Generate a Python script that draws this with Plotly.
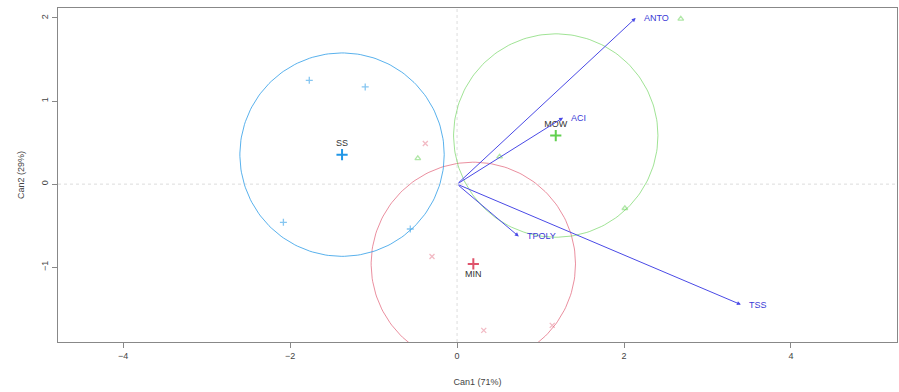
import numpy as np
import plotly.graph_objects as go

# ---- data ----
groups = ["MIN", "MOW", "SS"]
min_can1 = [-0.38, -0.30, 0.32, 1.14]
min_can2 = [0.49, -0.87, -1.76, -1.70]
mow_can1 = [-0.47, 0.51, 2.01, 2.68]
mow_can2 = [0.31, 0.33, -0.29, 1.99]
ss_can1 = [-1.77, -1.10, -2.08, -0.56]
ss_can2 = [1.25, 1.17, -0.46, -0.54]
circle_radius = 1.224

var_names = ["ANTO", "ACI", "TPOLY", "TSS"]
var_can1 = [2.14, 1.27, 0.74, 3.40]
var_can2 = [2.00, 0.80, -0.63, -1.45]

x_ticks = [-4, -2, 0, 2, 4]
y_ticks = [-1, 0, 1, 2]

colors = {"MIN": "#DF536B", "MOW": "#61D04F", "SS": "#2297E6"}
circ_col = {"MIN": "rgba(223,83,107,0.65)", "MOW": "rgba(97,208,79,0.6)", "SS": "rgba(34,151,230,0.75)"}
faded = {"MIN": "rgba(223,83,107,0.4)", "MOW": "rgba(97,208,79,0.5)", "SS": "rgba(34,151,230,0.55)"}
symbols = {"MIN": "x-thin", "MOW": "triangle-up-open", "SS": "cross-thin"}
pts = {"MIN": (min_can1, min_can2), "MOW": (mow_can1, mow_can2), "SS": (ss_can1, ss_can2)}
label_pos = {"MIN": "bottom center", "MOW": "top center", "SS": "top center"}
FONT = "Liberation Sans, Arial, sans-serif"

fig = go.Figure()

# reference lines
fig.add_shape(type="line", xref="x", yref="paper", x0=0, x1=0, y0=0, y1=1,
              line=dict(color="#dddddd", width=1, dash="dot"), layer="below")
fig.add_shape(type="line", xref="paper", yref="y", x0=0, x1=1, y0=0, y1=0,
              line=dict(color="#dddddd", width=1, dash="dot"), layer="below")

t = np.linspace(0, 2 * np.pi, 200)
for g in groups:
    xs, ys = pts[g]
    mx, my = float(np.mean(xs)), float(np.mean(ys))
    fig.add_trace(go.Scatter(x=mx + circle_radius * np.cos(t), y=my + circle_radius * np.sin(t),
                             mode="lines", line=dict(color=circ_col[g], width=1),
                             hoverinfo="skip", showlegend=False))
    fig.add_trace(go.Scatter(x=xs, y=ys, mode="markers",
                             marker=dict(symbol=symbols[g], size=5,
                                         line=dict(color=faded[g], width=1.3), color=faded[g]),
                             showlegend=False))
    fig.add_trace(go.Scatter(x=[mx], y=[my], mode="markers+text", text=[g],
                             textposition=label_pos[g],
                             textfont=dict(family=FONT, size=9, color="#333333"),
                             marker=dict(symbol="cross-thin", size=8,
                                         line=dict(color=colors[g], width=2)),
                             showlegend=False))

# structure vectors
for name, vx, vy in zip(var_names, var_can1, var_can2):
    fig.add_annotation(x=vx, y=vy, ax=0, ay=0, xref="x", yref="y", axref="x", ayref="y",
                       showarrow=True, arrowhead=2, arrowsize=0.8, arrowwidth=1,
                       arrowcolor="#4a4ae6", text="")
    fig.add_annotation(x=vx, y=vy, xref="x", yref="y", text=name, showarrow=False,
                       xanchor="left", xshift=6,
                       font=dict(family=FONT, size=9, color="#3a3ad6"))

fig.update_layout(
    width=899, height=392,
    margin=dict(l=58, r=2, t=8, b=50),
    plot_bgcolor="white", paper_bgcolor="white",
    font=dict(family=FONT, size=9, color="#444444"),
    xaxis=dict(range=[-4.78, 5.27], tickvals=x_ticks, showgrid=False, zeroline=False,
               showline=True, mirror=True, linecolor="#888888", linewidth=1,
               ticks="outside", ticklen=5, tickcolor="#888888",
               title=dict(text="Can1 (71%)", font=dict(size=9), standoff=18)),
    yaxis=dict(range=[-1.90, 2.12], tickvals=y_ticks, showgrid=False, zeroline=False,
               showline=True, mirror=True, linecolor="#888888", linewidth=1,
               ticks="outside", ticklen=5, tickcolor="#888888", tickangle=-90,
               title=dict(text="Can2 (29%)", font=dict(size=9), standoff=14)),
)

fig.write_html("out.html")
